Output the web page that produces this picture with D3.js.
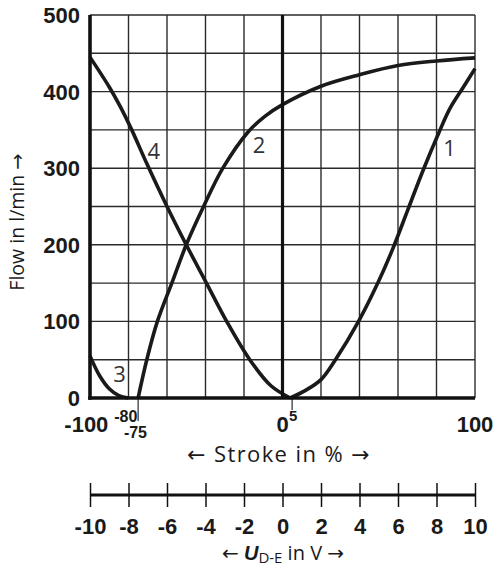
<!DOCTYPE html>
<html lang="en">
<head>
<meta charset="UTF-8">
<title>Flow vs stroke</title>
<style>
    body { margin: 0; background: #fff; }
    svg text { fill: #1a1a1a; }
</style>
</head>
<body>
<svg width="496" height="568"></svg>
<script src="https://d3js.org/d3.v7.min.js"></script>
<script>

    // stroke in %, flow in l/min
    var flowTicks = [0, 100, 200, 300, 400, 500];
    var strokeTicks = ["-100", "0", "100"];
    var voltTicks = [-10, -8, -6, -4, -2, 0, 2, 4, 6, 8, 10];

    var curve1 = [[4, 0], [12, 10], [20, 24], [27.5, 50], [39.5, 100], [49.5, 150], [57, 193],
        [65, 245], [73, 297], [81, 345], [87, 378], [94, 406], [100, 430]];
    var curve2 = [[-75, 0], [-70.5, 50], [-65, 100], [-57.5, 150], [-50, 200], [-41, 250],
        [-31, 300], [-18, 347], [-9, 368], [0, 383], [20, 407], [40, 422], [60, 434], [80, 440], [100, 444]];
    var curve3 = [[-100, 55], [-95, 29], [-90, 12], [-85, 3], [-80, 0]];
    var curve4 = [[-100, 445], [-90, 406], [-84.4, 381], [-78.5, 351], [-70.5, 306], [-60, 250],
        [-50, 200], [-39.5, 150], [-29, 100], [-17, 50], [-6, 16], [4, 0]];

    var curveNames = ["1", "2", "3", "4"];
    var curveLabelAt = [[86.8, 326], [-12.2, 330], [-84.7, 31], [-66.8, 323]];

    var svg = d3.select("svg");

    var x = d3.scaleLinear().domain([-100, 100]).range([90, 475]);
    var y = d3.scaleLinear().domain([0, 500]).range([398, 15]);
    var u = d3.scaleLinear().domain([-10, 10]).range([90, 475]);

    // grid
    var grid = svg.append("g").attr("stroke", "#2b2b2b").attr("stroke-width", 1.4);
    grid.selectAll("line.v")
        .data(d3.range(-80, 101, 20))
        .enter().append("line")
        .attr("x1", x).attr("x2", x)
        .attr("y1", y(0)).attr("y2", y(500));
    grid.selectAll("line.h")
        .data(d3.range(50, 501, 50))
        .enter().append("line")
        .attr("x1", x(-100)).attr("x2", x(100))
        .attr("y1", y).attr("y2", y);

    // small ticks at -75 and 5
    svg.append("line").attr("x1", x(-75)).attr("x2", x(-75)).attr("y1", y(0)).attr("y2", 421)
        .attr("stroke", "#2b2b2b").attr("stroke-width", 1.2);
    svg.append("line").attr("x1", x(5)).attr("x2", x(5)).attr("y1", y(0)).attr("y2", 410)
        .attr("stroke", "#2b2b2b").attr("stroke-width", 1.2);

    // curves
    var line = d3.line()
        .x(function(d) { return x(d[0]); })
        .y(function(d) { return y(d[1]); })
        .curve(d3.curveCatmullRom.alpha(0.5));

    svg.selectAll("path.curve")
        .data([curve1, curve2, curve3, curve4])
        .enter().append("path")
        .attr("class", "curve")
        .attr("d", line)
        .attr("fill", "none")
        .attr("stroke", "#1a1a1a")
        .attr("stroke-width", 3.6)
        .attr("stroke-linejoin", "round");

    // heavy axes
    var heavy = svg.append("g").attr("stroke", "#111").attr("stroke-width", 3.6);
    heavy.append("line").attr("x1", x(-100)).attr("x2", x(-100)).attr("y1", y(500)).attr("y2", y(0) + 1.8);
    heavy.append("line").attr("x1", x(-100) - 1.8).attr("x2", x(100)).attr("y1", y(0)).attr("y2", y(0));
    heavy.append("line").attr("x1", x(0)).attr("x2", x(0)).attr("y1", y(500)).attr("y2", y(0))
        .attr("stroke-width", 3.2);

    // curve labels
    svg.selectAll("text.cl")
        .data(curveNames)
        .enter().append("text")
        .attr("x", function(d, i) { return x(curveLabelAt[i][0]); })
        .attr("y", function(d, i) { return y(curveLabelAt[i][1]); })
        .attr("dy", "0.36em")
        .attr("text-anchor", "middle")
        .style("font-family", "'Open Sans', sans-serif")
        .style("font-size", "22px")
        .style("fill", "#333")
        .text(function(d) { return d; });

    var bold = "'Liberation Sans', Arial, sans-serif";

    // y tick labels
    svg.selectAll("text.yt")
        .data(flowTicks)
        .enter().append("text")
        .attr("x", 80)
        .attr("y", y)
        .attr("dy", "0.36em")
        .attr("text-anchor", "end")
        .style("font-family", bold).style("font-weight", "bold").style("font-size", "22px")
        .text(function(d) { return d; });

    // x tick labels (minus sign hangs left of the digits)
    function strokeLabel(value, size, baseline) {
        var t = svg.append("text")
            .attr("y", baseline)
            .style("font-family", bold).style("font-weight", "bold").style("font-size", size + "px")
            .text(String(Math.abs(value)));
        var w = t.node().getComputedTextLength();
        t.attr("x", x(value) - w / 2);
        if (value < 0) {
            svg.append("text")
                .attr("x", x(value) - w / 2).attr("y", baseline)
                .attr("text-anchor", "end")
                .style("font-family", bold).style("font-weight", "bold").style("font-size", size + "px")
                .text("-");
        }
        return t;
    }
    strokeTicks.forEach(function(d) { strokeLabel(+d, 22, 432); });
    strokeLabel(-80, 16, 422);
    strokeLabel(-75, 16, 438);
    svg.append("text")
        .attr("x", x(5) + 1).attr("y", 421)
        .attr("text-anchor", "middle")
        .style("font-family", bold).style("font-weight", "bold").style("font-size", "15px")
        .text("5");

    var light = "'Open Sans', 'DejaVu Sans', sans-serif";

    svg.append("text")
        .attr("x", 279).attr("y", 462)
        .attr("text-anchor", "middle")
        .style("font-family", light).style("font-size", "22px").style("letter-spacing", "1.4px")
        .text("\u2190 Stroke in % \u2192");

    svg.append("text")
        .attr("transform", "translate(24," + 222 + ") rotate(-90)")
        .attr("text-anchor", "middle")
        .style("font-family", light).style("font-size", "19.5px")
        .text("Flow in l/min \u2192");

    // voltage scale
    var ax = svg.append("g")
        .attr("transform", "translate(0,495)")
        .call(d3.axisBottom(u).tickValues(voltTicks).tickSize(12).tickSizeOuter(0).tickFormat(d3.format("d")));
    ax.select(".domain").attr("stroke", "#111").attr("stroke-width", 3.2).attr("d", "M90,0H475");
    ax.selectAll(".tick line").attr("stroke", "#111").attr("stroke-width", 1.5).attr("y1", -12);
    ax.selectAll(".tick text")
        .attr("y", 39)
        .attr("dy", 0)
        .style("font-family", bold).style("font-weight", "bold").style("font-size", "22px")
        .style("fill", "#1a1a1a")
        .text(function(d) { return d < 0 ? "-" + Math.abs(d) : d; });

    var ut = svg.append("text")
        .attr("x", 283).attr("y", 560)
        .attr("text-anchor", "middle")
        .style("font-family", light).style("font-size", "20px");
    ut.append("tspan").text("\u2190 ");
    ut.append("tspan").style("font-family", bold).style("font-weight", "bold").style("font-style", "italic").text("U");
    ut.append("tspan").attr("dy", 3).style("font-size", "15px").text("D-E");
    ut.append("tspan").attr("dy", -3).text(" in V \u2192");

</script>
</body>
</html>
